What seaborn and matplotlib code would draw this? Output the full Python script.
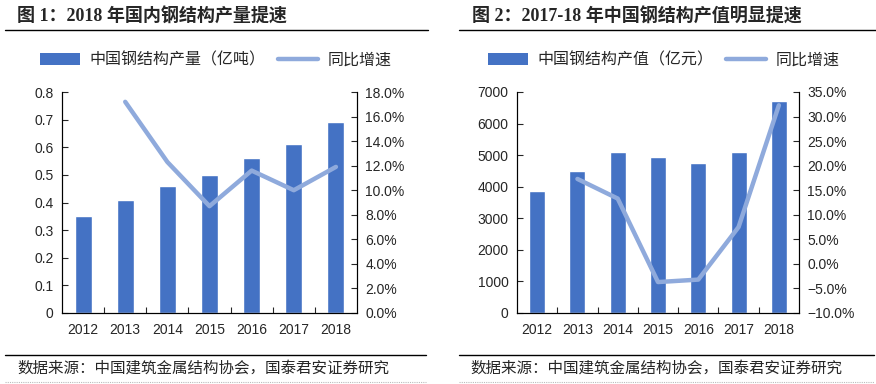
import matplotlib
matplotlib.use('Agg')
import matplotlib.pyplot as plt
import seaborn as sns
import numpy as np
from matplotlib.lines import Line2D
from matplotlib.patches import Patch
from matplotlib.ticker import FixedLocator, FuncFormatter

years = ['2012', '2013', '2014', '2015', '2016', '2017', '2018']

# 图1 数据
output_volume = [0.35, 0.41, 0.46, 0.50, 0.56, 0.61, 0.69]   # 亿吨
output_growth = [17.2, 12.3, 8.7, 11.6, 10.0, 11.9]          # %, 2013-2018

# 图2 数据
output_value = [3850, 4510, 5110, 4930, 4760, 5100, 6730]    # 亿元
value_growth = [17.3, 13.3, -3.7, -3.2, 7.5, 32.3]           # %, 2013-2018

titles = ['图 1：2018 年国内钢结构产量提速', '图 2：2017-18 年中国钢结构产值明显提速']
bar_labels = ['中国钢结构产量（亿吨）', '中国钢结构产值（亿元）']
line_label = '同比增速'
source = '数据来源：中国建筑金属结构协会，国泰君安证券研究'

BAR = '#4472C4'
LINE = '#8FAADC'

sns.set_style('ticks')
plt.rcParams['font.family'] = ['Liberation Sans', 'Noto Sans CJK SC', 'DejaVu Sans']
plt.rcParams['font.size'] = 10

fig = plt.figure(figsize=(8.76, 3.84), dpi=100)


def pct(v, q):
    s = f'{abs(v):.1f}%'
    return ('\u2212' + s) if v < -1e-9 else s


W, H = 876, 384
panels = [
    dict(ax=(62, 357), title_x=17, rule=(5, 428), src_x=17, legend_cx=216,
         bars=output_volume, growth=output_growth, ylim=(0, 0.8), yticks=np.arange(0, 0.81, 0.1),
         yfmt=lambda v, p: '0' if abs(v) < 1e-9 else f'{v:.1f}',
         y2lim=(0, 18), y2ticks=np.arange(0, 18.1, 2)),
    dict(ax=(517, 799), title_x=472, rule=(459, 876), src_x=470, legend_cx=664,
         bars=output_value, growth=value_growth, ylim=(0, 7000), yticks=np.arange(0, 7001, 1000),
         yfmt=lambda v, p: f'{v:.0f}',
         y2lim=(-10, 35), y2ticks=np.arange(-10, 35.1, 5)),
]

for i, p in enumerate(panels):
    x0, x1 = p['ax']
    ax = fig.add_axes([x0 / W, 1 - 313 / H, (x1 - x0) / W, (313 - 92) / H])
    sns.barplot(x=years, y=p['bars'], color=BAR, saturation=1, width=0.4, ax=ax)
    ax.set_xlim(-0.5, 6.5)
    ax.set_ylim(*p['ylim'])
    ax.yaxis.set_major_locator(FixedLocator(p['yticks']))
    ax.yaxis.set_major_formatter(FuncFormatter(p['yfmt']))
    ax.set_xticks(range(len(years)))
    ax.set_xticklabels(years)
    ax.xaxis.set_minor_locator(FixedLocator(np.arange(0.5, 6, 1)))
    ax.tick_params(axis='x', which='major', length=0, pad=7, labelsize=10)
    ax.tick_params(axis='x', which='minor', direction='in', length=4, width=0.8)
    ax.tick_params(axis='y', direction='in', length=4, width=0.8, pad=6, labelsize=10)
    ax.set_xlabel('')
    ax.set_ylabel('')

    ax2 = ax.twinx()
    sns.lineplot(x=np.arange(1, len(years)), y=p['growth'], color=LINE, linewidth=3.2,
                 legend=False, ax=ax2)
    ax2.set_ylim(*p['y2lim'])
    ax2.yaxis.set_major_locator(FixedLocator(p['y2ticks']))
    ax2.yaxis.set_major_formatter(FuncFormatter(pct))
    ax2.tick_params(axis='y', direction='in', length=4, width=0.8, pad=6, labelsize=10)
    ax2.set_ylabel('')

    for a in (ax, ax2):
        a.spines['top'].set_visible(False)
        for s in ('left', 'right', 'bottom'):
            a.spines[s].set_linewidth(0.8)
            a.spines[s].set_color('black')

    handles = [Patch(facecolor=BAR, edgecolor='none'),
               Line2D([0], [0], color=LINE, linewidth=3.2)]
    fig.legend(handles, [bar_labels[i], line_label], loc='center',
               bbox_to_anchor=(p['legend_cx'] / W, 1 - 60 / H), ncol=2, frameon=False,
               fontsize=11.5, handlelength=2.5, handleheight=0.8, columnspacing=0.8,
               handletextpad=0.6)

    fig.text(p['title_x'] / W, 1 - 17 / H, titles[i], fontsize=13, fontweight='bold',
             family=['Liberation Serif', 'Noto Sans CJK SC'], va='center', ha='left')
    r0, r1 = p['rule']
    fig.add_artist(Line2D([r0 / W, r1 / W], [1 - 30 / H] * 2, color='black', linewidth=1.0))
    fig.add_artist(Line2D([r0 / W, (r1 - 2) / W], [1 - 355 / H] * 2, color='black', linewidth=1.0))
    fig.add_artist(Line2D([r0 / W, (r1 - 2) / W], [1 - 382 / H] * 2, color='#bbbbbb',
                          linewidth=0.8, linestyle=(0, (1, 1))))
    fig.text(p['src_x'] / W, 1 - 368 / H, source, fontsize=11.2, va='center', ha='left')

fig.savefig('out.png', dpi=100)
